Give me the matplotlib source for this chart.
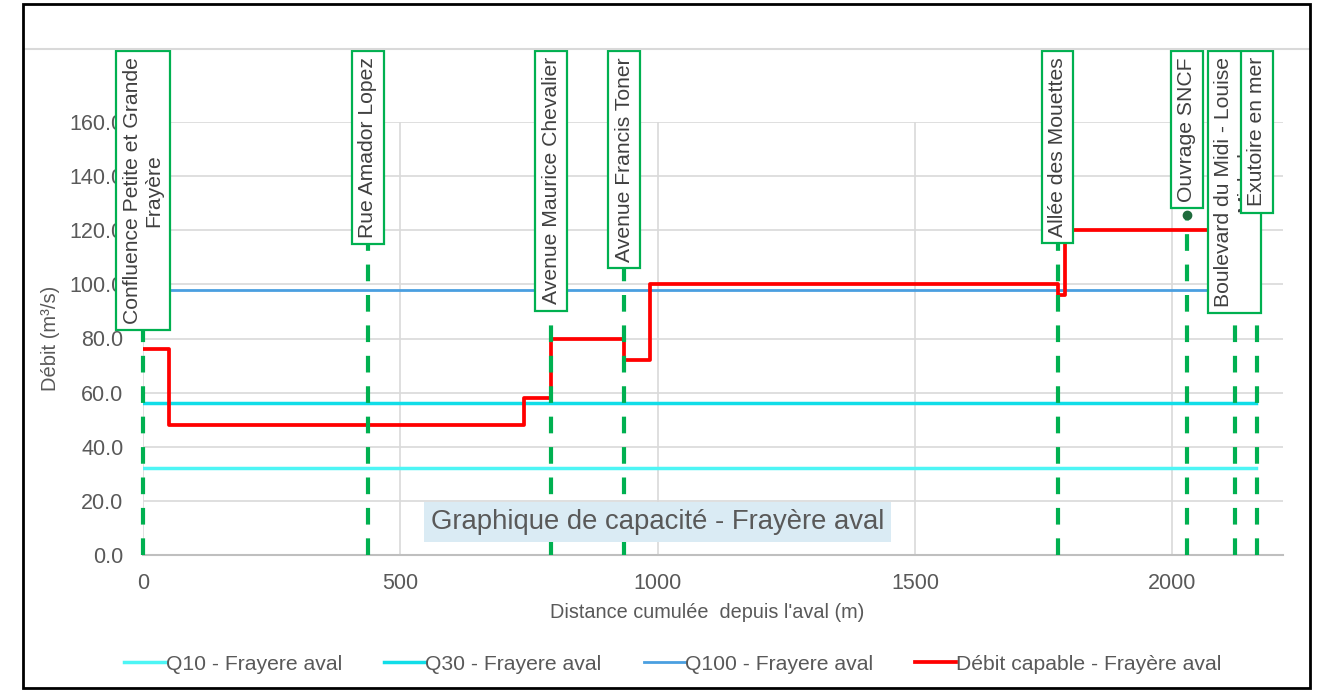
import matplotlib
matplotlib.use("Agg")
import matplotlib.pyplot as plt
from matplotlib.lines import Line2D
from matplotlib.patches import Rectangle

plt.rcParams['font.family'] = ['Liberation Sans', 'DejaVu Sans']

# ---- data ----
x_end = 2163
q10 = 32.0
q30 = 56.0
q100 = 98.0
step_x = [0, 50, 741, 793, 935, 986, 1778, 1791, 2163]
step_y = [76, 48, 58, 80, 72, 100, 96, 120, 120]

site_x = [0, 437, 793, 935, 1777, 2028, 2121, 2164]
site_names = ["Confluence Petite et Grande\nFrayère", "Rue Amador Lopez",
              "Avenue Maurice Chevalier", "Avenue Francis Toner",
              "Allée des Mouettes", "Ouvrage SNCF",
              "Boulevard du Midi - Louise\nMichel", "Exutoire en mer"]
y_ticks = [0, 20, 40, 60, 80, 100, 120, 140, 160]
x_ticks = [0, 500, 1000, 1500, 2000]

# ---- style ----
W, H = 1320, 691
txt = '#595959'
grid = '#D9D9D9'
green = '#00B050'
c_q10 = '#4DF5F5'
c_q30 = '#10DDE8'
c_q100 = '#4A9FE0'
c_red = '#FF0000'

fig = plt.figure(figsize=(W/100, H/100), dpi=100)
ax = fig.add_axes([143/W, 1-555/H, (1283-143)/W, (555-122)/H])
ax.set_xlim(0, 2215)
ax.set_ylim(0, 160)

for s in ['top', 'right', 'left']:
    ax.spines[s].set_visible(False)
ax.spines['bottom'].set_color('#BFBFBF')
ax.spines['bottom'].set_linewidth(1.5)
ax.set_xticks(x_ticks)
ax.set_yticks(y_ticks)
ax.set_yticklabels([f"{v:.1f}" for v in y_ticks])
ax.tick_params(length=0, labelsize=15.5, labelcolor=txt)
ax.tick_params(axis='x', pad=13)
ax.tick_params(axis='y', pad=14)
ax.grid(True, color=grid, linewidth=1.2)
ax.set_axisbelow(True)

ax.set_xlabel("Distance cumulée  depuis l'aval (m)", fontsize=14.3, color=txt)
ax.xaxis.set_label_coords(0.495, (555-603)/433)
ax.xaxis.label.set_va('top')
ax.set_ylabel("Débit (m³/s)", fontsize=14.5, color=txt)
ax.yaxis.set_label_coords((50-143)/1140, 0.5)
ax.yaxis.label.set_va('center')

l1, = ax.plot([0, x_end], [q10, q10], color=c_q10, lw=2.5, zorder=3)
l2, = ax.plot([0, x_end], [q30, q30], color=c_q30, lw=2.5, zorder=3)
l3, = ax.plot([0, x_end], [q100, q100], color=c_q100, lw=2, zorder=3)
l4, = ax.step(step_x, step_y, where='post', color=c_red, lw=2.7, zorder=4)

# site markers
top_y = (555-57)/433*160
for i, (sx, name) in enumerate(zip(site_x, site_names)):
    if name.startswith("Ouvrage"):
        ax.plot([sx, sx], [0, 125.5], color=green, lw=3, ls=(0, (4, 3.3)),
                zorder=5, clip_on=False)
        ax.plot([sx], [125.5], 'o', color='#1E6B3C', ms=6, zorder=5, clip_on=False)
    else:
        ax.plot([sx, sx], [0, 170], color=green, lw=3, ls=(0, (4, 3.3)),
                zorder=5, clip_on=False)
    ax.text(sx, top_y, name, rotation=90, ha='center', va='top',
            multialignment='center', fontsize=15.2, color='#404040',
            zorder=10 + i, clip_on=False,
            bbox=dict(boxstyle='square,pad=0.3', fc='white', ec=green, lw=1.6))

ax.text(1000, 12.3, "Graphique de capacité - Frayère aval", ha='center', va='center',
        fontsize=19.8, color=txt, zorder=6,
        bbox=dict(boxstyle='square,pad=0.25', fc='#DAEBF4', ec='none'))

# top separator line and outer frame
fig.add_artist(Line2D([24/W, 1310/W], [1-49/H, 1-49/H], color=grid, lw=1.5, zorder=20))
fig.add_artist(Rectangle((23/W, 1-688/H), (1310-23)/W, (688-4)/H, fill=False,
                         ec='black', lw=2, transform=fig.transFigure, zorder=30))

leg = fig.legend([l1, l2, l3, l4],
                 ["Q10 - Frayere aval", "Q30 - Frayere aval", "Q100 - Frayere aval",
                  "Débit capable - Frayère aval"],
                 loc='center', bbox_to_anchor=(673/W, 1-664/H), ncol=4, frameon=False,
                 fontsize=15.2, handlelength=1.95, handletextpad=0.0,
                 columnspacing=2.0, labelcolor=txt)

fig.savefig('out.png', dpi=100)
